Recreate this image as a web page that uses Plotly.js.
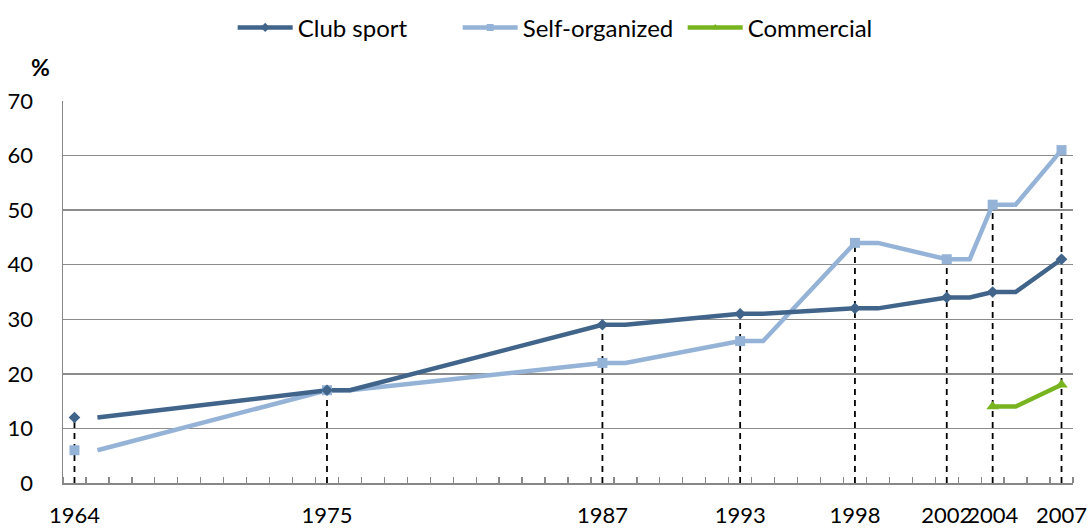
<!DOCTYPE html>
<html><head><meta charset="utf-8">
<script src="https://cdn.plot.ly/plotly-3.0.1.min.js"></script>
<style>html,body{margin:0;padding:0;background:#fff}#chart{width:1088px;height:529px}</style>
</head><body><div id="chart"></div>
<script>
// Survey years (marked points)
const surveyYears = [1964, 1975, 1987, 1993, 1998, 2002, 2004, 2007];
const clubSurvey = [12, 17, 29, 31, 32, 34, 35, 41];
const selfSurvey = [6, 17, 22, 26, 44, 41, 51, 61];
// Connected line series (as drawn in the original)
const lineYears = [1965, 1975, 1976, 1987, 1988, 1993, 1994, 1998, 1999, 2002, 2003, 2004, 2005, 2007];
const clubLine = [12, 17, 17, 29, 29, 31, 31, 32, 32, 34, 34, 35, 35, 41];
const selfLine = [6, 17, 17, 22, 22, 26, 26, 44, 44, 41, 41, 51, 51, 61];
const commYears = [2004, 2005, 2007];
const commLine = [14, 14, 18];
const commSurveyYears = [2004, 2007];
const commSurvey = [14, 18];
const tickLabels = ['1964', '1975', '1987', '1993', '1998', '2002', '2004', '2007'];

const C_CLUB = '#41658A', C_SELF = '#95B3D7', C_COMM = '#77B420';
const FONT = 'Lato, Carlito, "Open Sans", sans-serif';

// dashed drop lines
const dx = [], dy = [];
surveyYears.forEach((yr, i) => {
  dx.push(yr, yr, null);
  dy.push(0, Math.max(clubSurvey[i], selfSurvey[i]), null);
});

const traces = [
  {x: dx, y: dy, mode: 'lines', line: {color: '#000', width: 1.8, dash: '6px,5px'}, showlegend: false, hoverinfo: 'skip'},
  {x: lineYears, y: selfLine, mode: 'lines', line: {color: C_SELF, width: 4.5}, showlegend: false},
  {x: lineYears, y: clubLine, mode: 'lines', line: {color: C_CLUB, width: 4.5}, showlegend: false},
  {x: commYears, y: commLine, mode: 'lines', line: {color: C_COMM, width: 4.5}, showlegend: false},
  {x: surveyYears, y: selfSurvey, mode: 'markers', marker: {symbol: 'square', size: 10, color: C_SELF}, showlegend: false},
  {x: surveyYears, y: clubSurvey, mode: 'markers', marker: {symbol: 'diamond', size: 9, color: C_CLUB}, showlegend: false},
  {x: commSurveyYears, y: commSurvey, mode: 'markers', marker: {symbol: 'triangle-up', size: 11, color: C_COMM}, showlegend: false},
  {x: [null], y: [null], name: 'Club sport', mode: 'lines+markers', line: {color: C_CLUB, width: 4.5}, marker: {symbol: 'diamond', size: 7, color: C_CLUB}},
  {x: [null], y: [null], name: 'Self-organized', mode: 'lines+markers', line: {color: C_SELF, width: 4.5}, marker: {symbol: 'square', size: 7, color: C_SELF}},
  {x: [null], y: [null], name: 'Commercial', mode: 'lines+markers', line: {color: C_COMM, width: 4.5}, marker: {symbol: 'triangle-up', size: 7, color: C_COMM}}
];

const layout = {
  width: 1088, height: 529,
  margin: {l: 63, r: 15, t: 101, b: 46},
  paper_bgcolor: '#fff', plot_bgcolor: '#fff',
  font: {family: FONT, size: 22, color: '#000'},
  showlegend: true,
  legend: {orientation: 'h', x: 0.168, xanchor: 'left', y: 0.99, yref: 'container', yanchor: 'top',
           font: {family: FONT, size: 24, color: '#000'}, itemwidth: 55,
           entrywidth: 155, entrywidthmode: 'pixels', traceorder: 'normal'},
  xaxis: {
    range: [1963.5, 2007.5], tickmode: 'array', tickvals: surveyYears, ticktext: tickLabels,
    tickangle: 0, ticks: '', showgrid: false, zeroline: false,
    showline: true, linecolor: '#888', linewidth: 1.5, ticklabelstandoff: 12, ticklabeloverflow: 'allow',
    minor: {tickmode: 'linear', tick0: 1963.5, dtick: 1, ticks: 'inside', ticklen: 6, tickcolor: '#888', tickwidth: 1.3, showgrid: false},
    tickfont: {family: FONT, size: 22, color: '#000'}, fixedrange: true
  },
  yaxis: {
    range: [0, 70], tickmode: 'linear', tick0: 0, dtick: 10, ticks: '',
    showgrid: true, gridcolor: '#8c8c8c', gridwidth: 1.5, zeroline: false,
    showline: true, linecolor: '#888', linewidth: 1.5, ticklabelstandoff: 24,
    tickfont: {family: FONT, size: 22, color: '#000'}, fixedrange: true
  },
  annotations: [{text: '<b>%</b>', xref: 'paper', yref: 'paper', x: -0.022, y: 1.09, xanchor: 'center', yanchor: 'middle',
                 showarrow: false, font: {family: FONT, size: 23, color: '#000'}}]
};
Plotly.newPlot('chart', traces, layout, {displayModeBar: false, staticPlot: true});
</script></body></html>
